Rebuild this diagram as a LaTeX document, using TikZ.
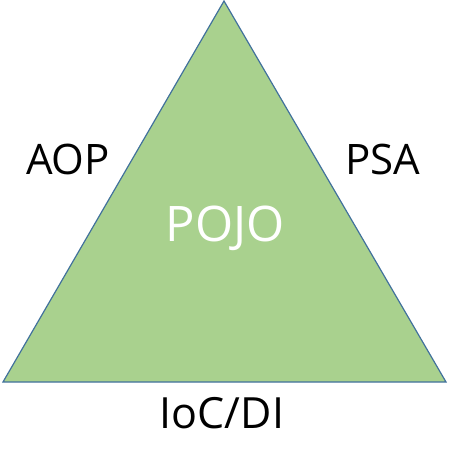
\documentclass[tikz,border=0pt]{standalone}
\usepackage{fontspec}
\setmainfont{Open Sans}
\definecolor{tri}{HTML}{A9D18E}
\definecolor{edge}{HTML}{41719C}
\tikzset{label text/.style={font=\fontsize{42}{48}\selectfont}}
\begin{document}
\begin{tikzpicture}[x=1pt,y=-1pt]
		\useasboundingbox (0,0) rectangle (450,469);
		\coordinate (top) at (224,1);
		\coordinate (l) at (3,382);
		\coordinate (r) at (446,382);
		\draw[fill=tri,draw=edge,line width=1.2pt] (top)--(l)--(r)--cycle;
		\node[name=pojo,text=white,font=\fontsize{49}{56}\selectfont] at (225,228){POJO};
		\node[name=aop,label text] at (68,159){AOP};
		\node[name=psa,label text] at (383,159){PSA};
		\node[name=ioc,label text,font=\fontsize{43}{50}\selectfont] at (222,413){IoC/DI};
	\end{tikzpicture}
\end{document}
